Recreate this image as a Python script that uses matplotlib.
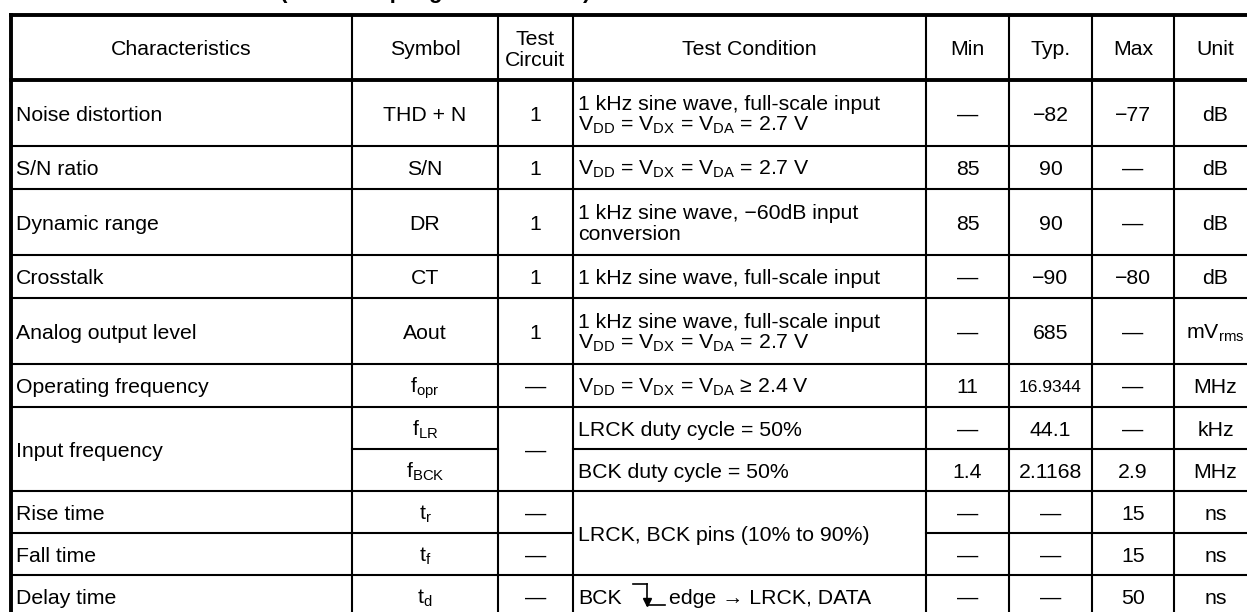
import matplotlib
matplotlib.use("Agg")
import matplotlib.pyplot as plt

plt.rcParams['font.family'] = ['Liberation Sans', 'DejaVu Sans']
plt.rcParams['mathtext.fontset'] = 'custom'
plt.rcParams['mathtext.rm'] = 'Liberation Sans'
plt.rcParams['mathtext.default'] = 'regular'

# ------------------------------------------------------------
# table contents (None = merged with the cell above)
# ------------------------------------------------------------
title = "DAC Characteristics (Over-sampling DAC Section)"
headers = ["Characteristics", "Symbol", "Test\nCircuit", "Test Condition",
           "Min", "Typ.", "Max", "Unit"]

characteristics = ["Noise distortion", "S/N ratio", "Dynamic range", "Crosstalk",
                   "Analog output level", "Operating frequency", "Input frequency", None,
                   "Rise time", "Fall time", "Delay time"]
symbols = ["THD + N", "S/N", "DR", "CT", "Aout", "f$_{opr}$", "f$_{LR}$", "f$_{BCK}$",
           "t$_{r}$", "t$_{f}$", "t$_{d}$"]
circuits = ["1", "1", "1", "1", "1", "—", "—", None, "—", "—", "—"]
conditions = ["1 kHz sine wave, full-scale input\nV$_{DD}$ = V$_{DX}$ = V$_{DA}$ = 2.7 V",
              "V$_{DD}$ = V$_{DX}$ = V$_{DA}$ = 2.7 V",
              "1 kHz sine wave, −60dB input\nconversion",
              "1 kHz sine wave, full-scale input",
              "1 kHz sine wave, full-scale input\nV$_{DD}$ = V$_{DX}$ = V$_{DA}$ = 2.7 V",
              "V$_{DD}$ = V$_{DX}$ = V$_{DA}$ ≥ 2.4 V",
              "LRCK duty cycle = 50%",
              "BCK duty cycle = 50%",
              "LRCK, BCK pins (10% to 90%)", None,
              "BCK|edge → LRCK, DATA"]
mins = ["—", "85", "85", "—", "—", "11", "—", "1.4", "—", "—", "—"]
typs = ["−82", "90", "90", "−90", "685", "16.9344", "44.1", "2.1168", "—", "—", "—"]
maxs = ["−77", "—", "—", "−80", "—", "—", "—", "2.9", "15", "15", "50"]
units = ["dB", "dB", "dB", "dB", "mV$_{rms}$", "MHz", "kHz", "MHz", "ns", "ns", "ns"]

columns = [characteristics, symbols, circuits, conditions, mins, typs, maxs, units]
small_cells = ["16.9344"]   # printed a bit smaller in the original

# ------------------------------------------------------------
# layout (pixels)
# ------------------------------------------------------------
col_x = [11, 352, 498, 573, 926, 1009, 1092, 1174, 1257]
row_y = [15, 80, 146, 189, 255, 298, 364, 407, 449, 491, 533, 575, 617]
FS = 15.3
PITCH = 21
THIN = 1.5
THICK = 2.8

fig = plt.figure(figsize=(12.47, 6.12), dpi=100)
ax = fig.add_axes([0, 0, 1, 1])
ax.set_xlim(0, 1247)
ax.set_ylim(612, 0)
ax.axis('off')


def put(x, yc, s, ha='center', size=FS, **kw):
    lines = s.split('\n')
    n = len(lines)
    for k, line in enumerate(lines):
        yy = yc + (k - (n - 1) / 2) * PITCH + 0.36 * size * 1.389
        ax.text(x, yy, line, ha=ha, va='baseline', fontsize=size, **kw)


def falling_edge(x, yc):
    # small BCK falling-edge waveform
    top, bot = yc - 12, yc + 9
    ax.plot([x, x + 14], [top, top], color='black', lw=1.2)
    ax.plot([x + 14, x + 14], [top, bot - 3], color='black', lw=1.2)
    ax.plot([x + 14], [bot - 3], marker='v', color='black', ms=6)
    ax.plot([x + 14, x + 32], [bot, bot], color='black', lw=1.2)


# title (only the bottom shows above the table)
ax.text(280, -2, title[title.index('('):], ha='left', va='baseline',
        fontsize=16, fontweight='bold')
ax.text(276, -2, title[:title.index('(')].strip(), ha='right', va='baseline',
        fontsize=16, fontweight='bold')

# header
for c, h in enumerate(headers):
    put((col_x[c] + col_x[c + 1]) / 2, (row_y[0] + row_y[1]) / 2, h)

# body
nrows = len(characteristics)
for c, col in enumerate(columns):
    for r in range(nrows):
        val = col[r]
        if val is None:
            continue
        r2 = r + 1
        while r2 < nrows and col[r2] is None:
            r2 += 1
        yc = (row_y[r + 1] + row_y[r2 + 1]) / 2
        if c == 0:
            put(col_x[0] + 5, yc, val, ha='left')
        elif c == 3:
            if '|' in val:
                left, right = val.split('|')
                put(col_x[3] + 5, yc, left, ha='left')
                falling_edge(col_x[3] + 60, yc)
                put(col_x[3] + 96, yc, right, ha='left')
            else:
                put(col_x[3] + 5, yc, val, ha='left')
        else:
            size = 12.5 if val in small_cells else FS
            put((col_x[c] + col_x[c + 1]) / 2, yc, val, size=size)

# grid lines
for c in range(len(columns)):
    col = columns[c]
    for r in range(nrows):
        if r + 1 < nrows and col[r + 1] is None:
            continue
        y = row_y[r + 2]
        ax.plot([col_x[c], col_x[c + 1]], [y, y], color='black', lw=THIN,
                solid_capstyle='projecting')
for y in row_y[:2]:
    ax.plot([col_x[0], col_x[-1]], [y, y], color='black', lw=THICK,
            solid_capstyle='projecting')
for i, x in enumerate(col_x):
    ax.plot([x, x], [row_y[0], row_y[-1]], color='black',
            lw=THICK if i in (0, len(col_x) - 1) else THIN,
            solid_capstyle='projecting')

fig.savefig('out.png', dpi=100)
